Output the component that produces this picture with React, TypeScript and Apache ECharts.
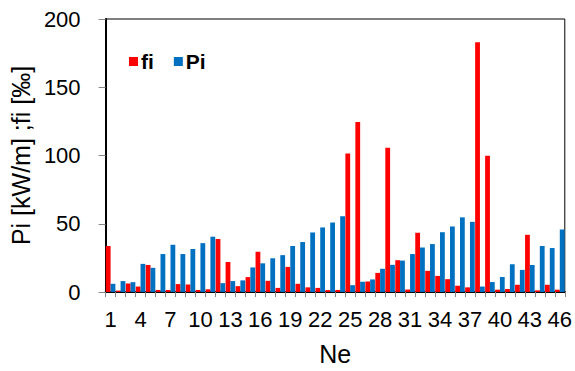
import React, { useEffect, useRef } from "react";
import * as echarts from "echarts";

const categories: string[] = Array.from({ length: 46 }, (_, i) => String(i + 1));

const fiValues: number[] = [
  33.7, 1, 6.3, 4, 19.8, 1.5, 1.5, 5.8, 5.5, 1.5,
  2, 38.8, 22, 4.3, 10.9, 29.5, 8.2, 3, 18.4, 6,
  3.4, 3, 1.4, 1.5, 101.5, 124.6, 7.7, 14, 105.7, 23.3,
  1.8, 43.4, 15.5, 11.8, 9.4, 4.6, 3.4, 183, 99.8, 1.7,
  2.2, 5.3, 41.9, 1.2, 5.3, 1.7,
];

const piValues: number[] = [
  6, 8, 7.2, 20.6, 17.7, 27.8, 34.6, 27.8, 31.5, 35.8,
  40.5, 6.5, 8, 8.5, 18, 21, 24.7, 27, 33.7, 36.6,
  43.6, 47.3, 50.9, 55.5, 5, 7.5, 9.2, 17, 19.9, 23,
  27.8, 32.6, 35.1, 43.8, 48, 54.7, 51.4, 4, 7.3, 11,
  20.3, 16.2, 19.8, 33.7, 32.2, 45.8,
];

const seriesNames: string[] = ["fi", "Pi"];
const yTicks = { min: 0, max: 200, interval: 50 };

const FONT = "'Liberation Sans', Arial, sans-serif";

export default function App() {
  const ref = useRef<HTMLDivElement>(null);

  useEffect(() => {
    if (!ref.current) return;
    const chart = echarts.init(ref.current, undefined, { renderer: "svg" });
    chart.setOption({
      animation: false,
      backgroundColor: "#ffffff",
      textStyle: { fontFamily: FONT },
      grid: {
        left: 104,
        right: 9,
        top: 19,
        bottom: 77,
        show: true,
        borderColor: "#000",
        borderWidth: 1,
        containLabel: false,
      },
      legend: {
        data: seriesNames,
        left: 124,
        top: 46,
        icon: "rect",
        itemWidth: 9,
        itemHeight: 9,
        itemGap: 20,
        textStyle: { fontSize: 21, fontWeight: "bold", color: "#000", fontFamily: FONT, padding: [0, 0, 0, -2] },
      },
      xAxis: {
        type: "category",
        data: categories,
        name: "Ne",
        nameLocation: "middle",
        nameGap: 49,
        nameTextStyle: { fontSize: 25, color: "#000", fontFamily: FONT },
        axisLine: { lineStyle: { color: "#000", width: 2 } },
        axisTick: { show: true, interval: 0, length: 5, lineStyle: { color: "#888" } },
        axisLabel: { interval: 2, fontSize: 22, color: "#000", margin: 16, fontFamily: FONT },
        splitLine: { show: false },
      },
      yAxis: {
        type: "value",
        min: yTicks.min,
        max: yTicks.max,
        interval: yTicks.interval,
        name: "Pi [kW/m] ;fi [‰]",
        nameLocation: "middle",
        nameGap: 64,
        nameTextStyle: { fontSize: 25, color: "#000", fontFamily: FONT },
        axisLine: { show: true, lineStyle: { color: "#000", width: 2 } },
        axisTick: { show: true, length: 7, lineStyle: { color: "#888" } },
        axisLabel: { fontSize: 22, color: "#000", margin: 25, fontFamily: FONT },
        splitLine: { show: false },
      },
      series: [
        {
          name: seriesNames[0],
          type: "bar",
          data: fiValues,
          itemStyle: { color: "#FF0000" },
          barGap: "0%",
          barCategoryGap: "4%",
        },
        {
          name: seriesNames[1],
          type: "bar",
          data: piValues,
          itemStyle: { color: "#0070C0" },
          barGap: "0%",
          barCategoryGap: "4%",
        },
      ],
    });
    return () => chart.dispose();
  }, []);

  return (
    <div
      ref={ref}
      style={{ position: "fixed", left: 0, top: 0, width: 575, height: 371, background: "#fff" }}
    />
  );
}
